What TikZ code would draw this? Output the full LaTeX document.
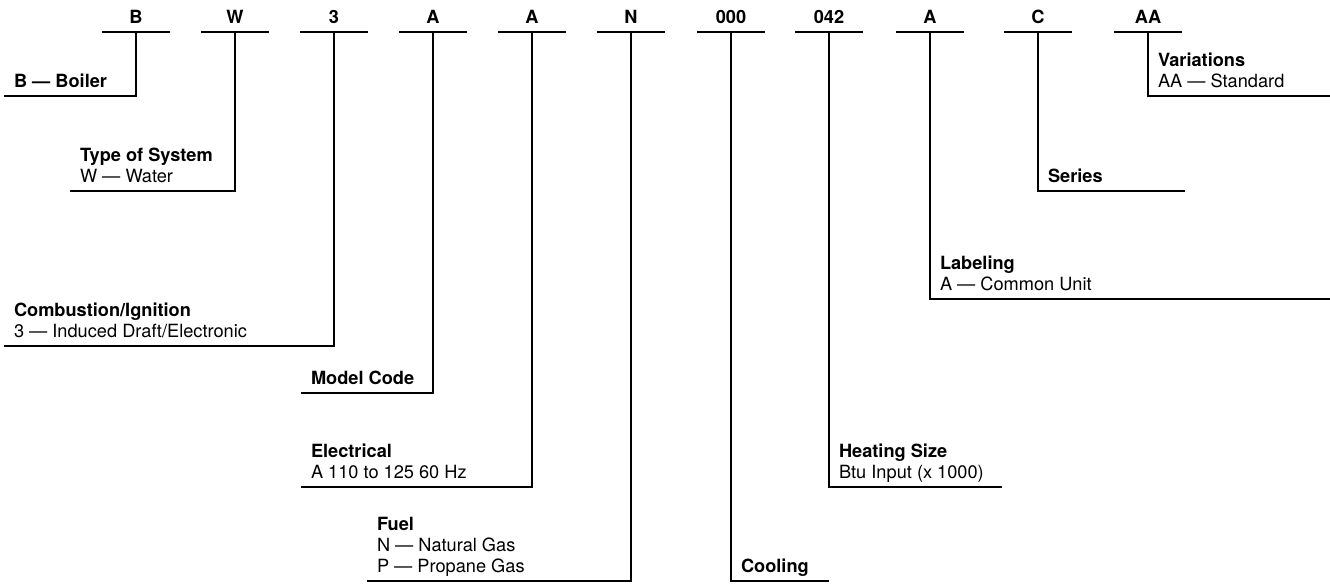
\documentclass[tikz,border=0pt]{standalone}
\usepackage{fontspec}
\setmainfont{TeX Gyre Heros}

\tikzset{
  code/.style={font=\fontsize{9.1pt}{10.5pt}\selectfont\bfseries, inner sep=0pt, anchor=base},
  lab/.style={font=\fontsize{9.1pt}{10.5pt}\selectfont, align=left, inner xsep=5pt,
    inner ysep=0pt, outer sep=0pt, text depth=4.25pt, anchor=south west},
  rule/.style={line width=0.6pt},
}

\begin{document}
\begin{tikzpicture}[x=0.5pt,y=-0.5pt]
  \useasboundingbox (0,0) rectangle (1330,584);

  % Code characters with their underlines
  \foreach \x/\lbl/\nm in {136/B/B, 235/W/W, 334/3/CI, 433/A/MC, 532/A/EL, 631/N/FU,
      731/000/CO, 829/042/HS, 930/A/LB, 1038/C/SE, 1148/AA/VA} {
    \node[code] (k\nm) at (\x,23.5) {\lbl};
    \coordinate (t\nm) at (\x,32);
    \draw[rule] ([xshift=-17pt]t\nm) -- ([xshift=17pt]t\nm);
  }

  % Fields to the left
  \node[lab] (lbB) at (4,96) {\bfseries B --- Boiler};
  \draw[rule] (tB) |- (lbB.south west);

  \node[lab] (lbW) at (70,191) {\textbf{Type of System}\\W --- Water};
  \draw[rule] (tW) |- (lbW.south west);

  \node[lab] (lbCI) at (4,346) {\textbf{Combustion/Ignition}\\3 --- Induced Draft/Electronic};
  \draw[rule] (tCI) |- (lbCI.south west);

  \node[lab] (lbMC) at (301,393) {\bfseries Model Code};
  \draw[rule] (tMC) |- (lbMC.south west);

  \node[lab] (lbEL) at (301,487) {\textbf{Electrical}\\A 110 to 125 60 Hz};
  \draw[rule] (tEL) |- (lbEL.south west);

  \node[lab] (lbFU) at (367,581) {\textbf{Fuel}\\N --- Natural Gas\\P --- Propane Gas};
  \draw[rule] (tFU) |- (lbFU.south west);

  % Fields to the right
  \node[lab] (lbCO) at (731,581) {\bfseries Cooling};
  \coordinate (eCO) at (829,581);
  \draw[rule] (tCO) -- (lbCO.south west) -- (eCO);

  \node[lab] (lbHS) at (829,487) {\textbf{Heating Size}\\Btu Input (x 1000)};
  \coordinate (eHS) at (1002,487);
  \draw[rule] (tHS) -- (lbHS.south west) -- (eHS);

  \node[lab] (lbLB) at (930,299) {\textbf{Labeling}\\A --- Common Unit};
  \coordinate (eLB) at (1330,299);
  \draw[rule] (tLB) -- (lbLB.south west) -- (eLB);

  \node[lab] (lbSE) at (1038,191) {\bfseries Series};
  \coordinate (eSE) at (1185,191);
  \draw[rule] (tSE) -- (lbSE.south west) -- (eSE);

  \node[lab] (lbVA) at (1148,96) {\textbf{Variations}\\AA --- Standard};
  \coordinate (eVA) at (1330,96);
  \draw[rule] (tVA) -- (lbVA.south west) -- (eVA);
\end{tikzpicture}
\end{document}
